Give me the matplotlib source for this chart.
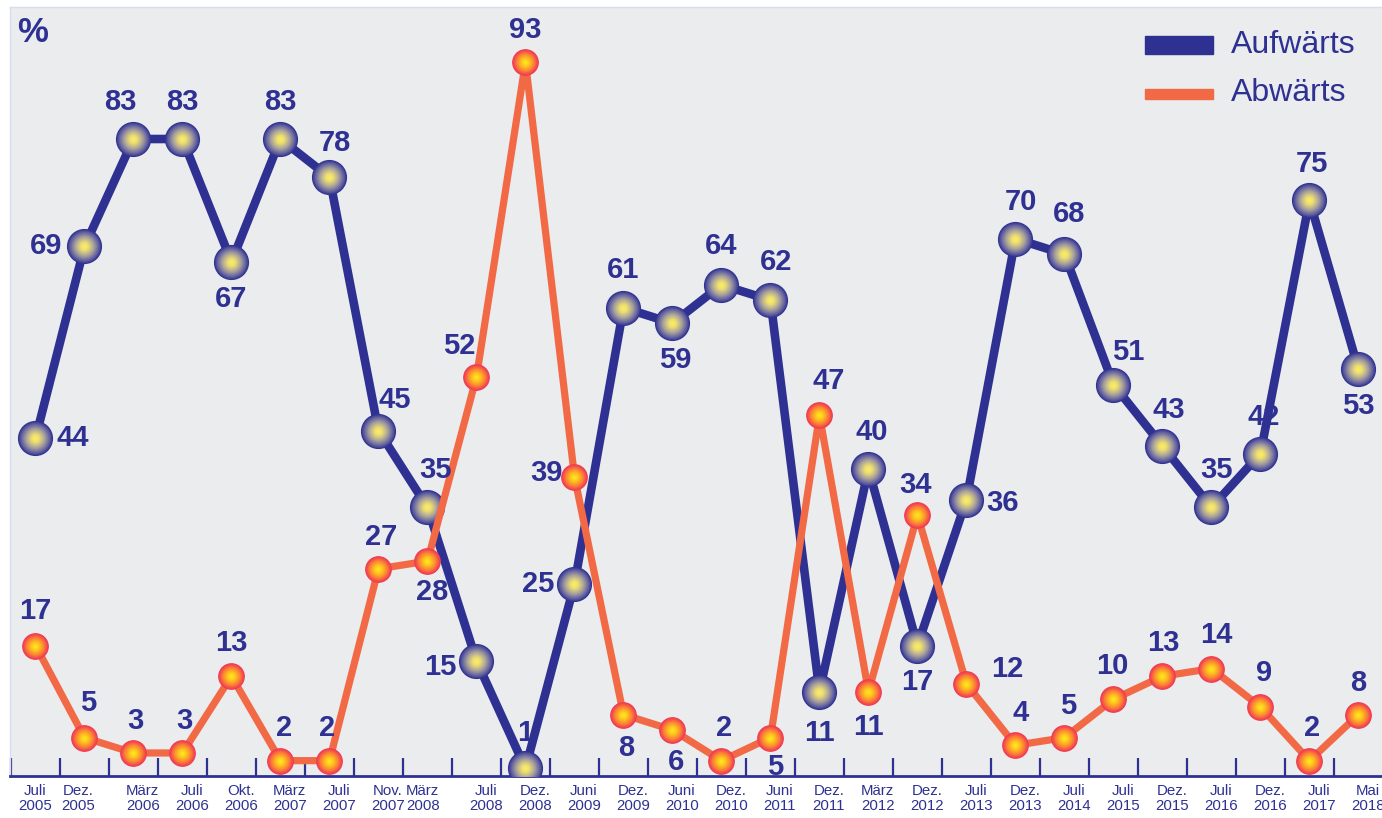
import numpy as np
import matplotlib
matplotlib.use('Agg')
import matplotlib.pyplot as plt
from matplotlib.colors import to_rgb

# Stimmung: Anteil Aufwärts / Abwärts in %
PERIODS = [
    "Juli\n2005", "Dez.\n2005", "März\n2006", "Juli\n2006", "Okt.\n2006",
    "März\n2007", "Juli\n2007", "Nov.\n2007", "März\n2008", "Juli\n2008",
    "Dez.\n2008", "Juni\n2009", "Dez.\n2009", "Juni\n2010", "Dez.\n2010",
    "Juni\n2011", "Dez.\n2011", "März\n2012", "Dez.\n2012", "Juli\n2013",
    "Dez.\n2013", "Juli\n2014", "Juli\n2015", "Dez.\n2015", "Juli\n2016",
    "Dez.\n2016", "Juli\n2017", "Mai\n2018",
]
AUFWAERTS = [44, 69, 83, 83, 67, 83, 78, 45, 35, 15, 1, 25, 61, 59, 64, 62,
             11, 40, 17, 36, 70, 68, 51, 43, 35, 42, 75, 53]
ABWAERTS = [17, 5, 3, 3, 13, 2, 2, 27, 28, 52, 93, 39, 8, 6, 2, 5,
            47, 11, 34, 12, 4, 5, 10, 13, 14, 9, 2, 8]

NAVY = "#2e3192"
ORANGE = "#f26a45"
BG = "#ebecee"
FONT = ['Liberation Sans', 'DejaVu Sans']

# label offsets in pixels (dx, dy), dy positive = up
OFF_AUF = [(37, 0), (-38, 0), (-13, 37), (0, 37), (0, -37), (0, 37), (5, 34),
           (16, 31), (8, 37), (-36, -6), (0, 35), (-36, 0), (0, 38), (3, -37),
           (0, 39), (6, 38), (0, -41), (3, 37), (0, -36), (36, -3), (5, 37),
           (5, 40), (15, 33), (6, 36), (5, 37), (3, 37), (2, 36), (0, -37)]
OFF_ABW = [(0, 35), (4, 35), (2, 32), (2, 32), (0, 33), (4, 33), (-2, 33),
           (3, 32), (5, -31), (-17, 31), (0, 32), (-28, 4), (3, -33), (4, -32),
           (3, 33), (5, -29), (9, 34), (0, -35), (-2, 30), (41, 15), (5, 32),
           (4, 32), (-1, 33), (1, 33), (5, 34), (4, 34), (3, 33), (0, 32)]
# small horizontal shifts of the period labels (data units)
LBL_SHIFT = [0.0, -0.13] + [0.19] * 6 + [-0.1] + [0.19] * 19


def gradient_markers(ax, x, y, size, stops, z):
    # fake radial gradient: stacked circles, outer to inner
    n = 22
    rs = np.linspace(1.0, 0.08, n)
    pos = [p for p, _ in stops]
    cols = np.array([to_rgb(c) for _, c in stops])
    for r in rs:
        c = [np.interp(r, pos, cols[:, k]) for k in range(3)]
        ax.scatter(x, y, s=size * r ** 2, color=c, linewidths=0, zorder=z)
        z += 0.001


fig = plt.figure(figsize=(13.82, 8.18), dpi=100)
ax = fig.add_axes([10 / 1382, 42 / 818, 1 - 10 / 1382, 769 / 818])
ax.set_facecolor(BG)
ax.set_xlim(-0.52, 27.48)
ax.set_ylim(0, 100.2)

x = np.arange(len(PERIODS))

ax.plot(x, AUFWAERTS, color=NAVY, lw=6.2, solid_capstyle='round',
        solid_joinstyle='round', zorder=3)
gradient_markers(ax, x, AUFWAERTS, 640,
                 [(0.0, "#fff45a"), (0.25, "#ebdc74"), (0.55, "#aaa39c"),
                  (0.85, "#5d5ca0"), (1.0, "#303190")], 4)

ax.plot(x, ABWAERTS, color=ORANGE, lw=5.2, solid_capstyle='round',
        solid_joinstyle='round', zorder=5)
gradient_markers(ax, x, ABWAERTS, 370,
                 [(0.0, "#fff21c"), (0.35, "#ffc020"), (0.7, "#fb7a38"),
                  (0.9, "#f4484e"), (1.0, "#ee3a58")], 6)

vfont = dict(family=FONT, fontsize=21, fontweight='bold', color=NAVY,
             ha='center', va='center')
for xi, v, (dx, dy) in zip(x, AUFWAERTS, OFF_AUF):
    ax.annotate(str(v), (xi, v), xytext=(dx, dy), textcoords='offset pixels',
                zorder=8, **vfont)
for xi, v, (dx, dy) in zip(x, ABWAERTS, OFF_ABW):
    ax.annotate(str(v), (xi, v), xytext=(dx, dy), textcoords='offset pixels',
                zorder=8, **vfont)

# axis: ticks at period boundaries pointing up
ax.set_xticks(np.arange(-0.5, 27, 1.0))
ax.set_xticklabels([])
ax.tick_params(axis='x', direction='in', length=13, width=1.6, color=NAVY)
ax.set_yticks([])
for side in ('top', 'left'):
    ax.spines[side].set_color("#d9dcef")
    ax.spines[side].set_linewidth(1.0)
ax.spines['right'].set_visible(False)
ax.spines['bottom'].set_color(NAVY)
ax.spines['bottom'].set_linewidth(2.0)

for xi, lbl, sh in zip(x, PERIODS, LBL_SHIFT):
    ax.annotate(lbl, (xi + sh, 0), xycoords=('data', 'axes fraction'),
                xytext=(0, -8), textcoords='offset pixels', ha='center',
                va='top', fontsize=10.8, color=NAVY, linespacing=1.12,
                family=FONT, annotation_clip=False)

ax.text(7 / 1372, 1 - 26 / 769, "%", transform=ax.transAxes, fontsize=25,
        fontweight='bold', color=NAVY, ha='left', va='center', family=FONT)

# legend drawn by hand
fig.patches.append(plt.Rectangle((1145 / 1382, 1 - 54 / 818), 68 / 1382, 18 / 818,
                                 transform=fig.transFigure, color=NAVY))
fig.patches.append(plt.Rectangle((1145 / 1382, 1 - 99 / 818), 68 / 1382, 10 / 818,
                                 transform=fig.transFigure, color=ORANGE))
fig.text(1231 / 1382, 1 - 45 / 818, "Aufwärts", fontsize=23, color=NAVY,
         ha='left', va='center', family=FONT)
fig.text(1231 / 1382, 1 - 93 / 818, "Abwärts", fontsize=23, color=NAVY,
         ha='left', va='center', family=FONT)

fig.savefig("out.png", dpi=100, facecolor='white')
